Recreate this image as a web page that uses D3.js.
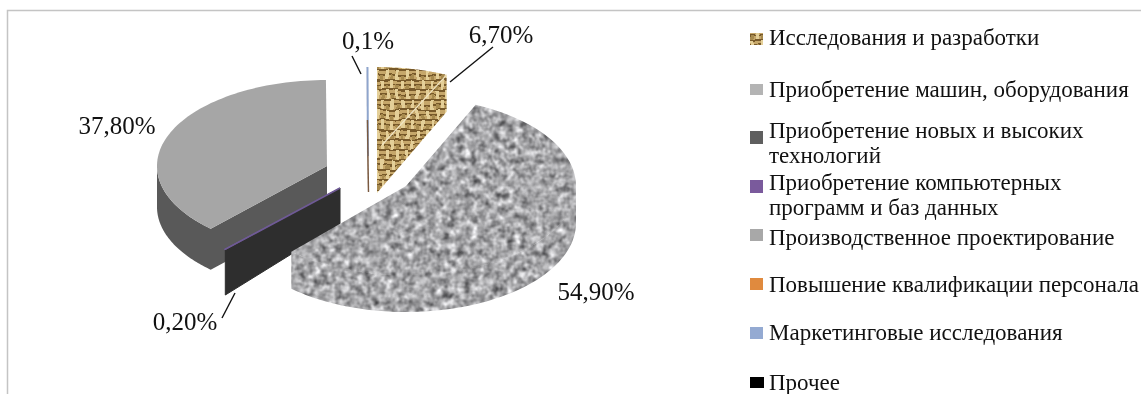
<!DOCTYPE html>
<html>
<head>
<meta charset="utf-8">
<script src="https://d3js.org/d3.v7.min.js"></script>
<style>
  body { margin: 0; background: #fff; }
  svg { display: block; filter: blur(0.35px); }
  text { font-family: "Liberation Serif", serif; fill: #111; }
</style>
</head>
<body>
<div id="chart"></div>
<script>
const categories = ["Исследования и разработки", "Приобретение машин, оборудования", "Приобретение новых и высоких технологий", "Приобретение компьютерных программ и баз данных", "Производственное проектирование", "Повышение квалификации персонала", "Маркетинговые исследования", "Прочее"];
const shares = [6.7, 54.9, 0, 0.2, 37.8, 0, 0.1, 0];
const shareLabels = ["6,70%", "54,90%", "", "0,20%", "37,80%", "", "0,1%", ""];

const width = 1141;
const height = 394;
const rx = 170;

// each slice is pulled away from the centre on its own
const apex = [[377, 156], [406, 186], null, [340, 188], [327, 166], null, [368, 156], null];
const labelPos = [[501, 43], [596, 300], null, [185, 330], [117, 134], null, [368, 49], null];
const leaders = [[[450, 82], [493, 47]], null, null, [[235, 293], [222, 318]], null, null, [[361, 74], [352, 56]], null];

const swatchFill = ["url(#burlap)", "#b4b4b4", "#5f5f5f", "#7a5a9c", "#a8a8a8", "#e08a3e", "#94aad2", "#000"];
const legendRows = [
  { lines: [categories[0]], base: [45], box: [33, 12] },
  { lines: [categories[1]], base: [97], box: [84, 11] },
  { lines: ["Приобретение новых и высоких", "технологий"], base: [138, 163], box: [131, 13] },
  { lines: ["Приобретение компьютерных", "программ и баз данных"], base: [190, 215], box: [180, 13] },
  { lines: [categories[4]], base: [245], box: [229, 12] },
  { lines: [categories[5]], base: [292], box: [278, 12] },
  { lines: [categories[6]], base: [340], box: [327, 12] },
  { lines: [categories[7]], base: [390], box: [377, 11] }
];

const sliceStyles = [
  { top: "url(#burlap)", side: "url(#burlap)", ry: 89, h: 37 },
  { top: "url(#speckle)", side: "url(#speckle)", ry: 89, h: 37 },
  null,
  { top: "#6f5a96", side: "#2e2e2e", ry: 84, h: 45, hc: 36 },
  { top: "#a6a6a6", side: "#595959", ry: 86, h: 41 },
  null,
  { top: "#8fa5cc", side: "#7a5a40", ry: 89, h: 36 },
  null
];

const svg = d3.select("#chart")
  .append("svg")
  .attr("width", width)
  .attr("height", height);

const defs = svg.append("defs");

// sacking texture for the first slice, threads bent a little by noise
const wobble = defs.append("filter")
  .attr("id", "wobble")
  .attr("filterUnits", "userSpaceOnUse")
  .attr("x", 0).attr("y", 0).attr("width", 1141).attr("height", 394)
  .attr("color-interpolation-filters", "sRGB");
wobble.append("feTurbulence")
  .attr("type", "fractalNoise")
  .attr("baseFrequency", 0.07)
  .attr("numOctaves", 2)
  .attr("seed", 3)
  .attr("result", "n");
wobble.append("feDisplacementMap")
  .attr("in", "SourceGraphic")
  .attr("in2", "n")
  .attr("scale", 5)
  .attr("xChannelSelector", "R")
  .attr("yChannelSelector", "G");

const burlap = defs.append("pattern")
  .attr("id", "burlap")
  .attr("patternUnits", "userSpaceOnUse")
  .attr("width", 1141)
  .attr("height", 394);
const weave = burlap.append("g").attr("filter", "url(#wobble)");
weave.append("rect").attr("width", 1141).attr("height", 394).attr("fill", "#77592a");
d3.range(0, 80).forEach(i => {
  weave.append("rect").attr("x", 0).attr("y", i * 5 + 1).attr("width", 1141).attr("height", 3).attr("fill", "#c6a76a");
});
d3.range(0, 230).forEach(i => {
  d3.range(0, 40).forEach(j => {
    const up = (i + j) % 2 === 0;
    weave.append("rect")
      .attr("x", i * 5 + 1)
      .attr("y", j * 10 + (up ? 0 : 5))
      .attr("width", 3)
      .attr("height", up ? 9 : 4)
      .attr("fill", up ? "#e4cf98" : "#a78a4e");
  });
});

// mottled grey for the big slice
const noise = defs.append("filter")
  .attr("id", "noise")
  .attr("x", 0).attr("y", 0).attr("width", 1).attr("height", 1)
  .attr("color-interpolation-filters", "sRGB");
noise.append("feTurbulence")
  .attr("type", "fractalNoise")
  .attr("baseFrequency", 0.14)
  .attr("numOctaves", 2)
  .attr("seed", 7);
noise.append("feColorMatrix")
  .attr("type", "matrix")
  .attr("values", "0.62 0.62 0 0 0.03  0.62 0.62 0 0 0.03  0.62 0.62 0 0 0.04  0 0 0 0 1");
noise.append("feGaussianBlur").attr("stdDeviation", 0.6);
const speckle = defs.append("pattern")
  .attr("id", "speckle")
  .attr("patternUnits", "userSpaceOnUse")
  .attr("width", width)
  .attr("height", height);
speckle.append("rect").attr("width", width).attr("height", height).attr("filter", "url(#noise)");

// frame
svg.append("path")
  .attr("d", d3.line()([[7.5, height], [7.5, 10.5], [width, 10.5]]))
  .attr("fill", "none")
  .attr("stroke", "#c4c4c4")
  .attr("stroke-width", 1.5);

const pie = d3.pie().sort(null).value(d => d);
const arcs = pie(shares);
const line = d3.line();

const rimPoint = (c, ry, a, dy) => [c[0] + rx * Math.sin(a), c[1] - ry * Math.cos(a) + dy];
const angles = (a0, a1, n) => d3.range(n + 1).map(k => a0 + (a1 - a0) * k / n);

function topPath(c, st, d) {
  return line([c].concat(angles(d.startAngle, d.endAngle, 80).map(a => rimPoint(c, st.ry, a, 0)))) + "Z";
}

function rimPath(c, st, d) {
  const a0 = Math.max(d.startAngle, Math.PI / 2);
  const a1 = Math.min(d.endAngle, Math.PI * 1.5);
  if (a1 <= a0) return null;
  const steps = angles(a0, a1, 60);
  const upper = steps.map(a => rimPoint(c, st.ry, a, 0));
  const lower = steps.slice().reverse().map(a => rimPoint(c, st.ry, a, st.h));
  return line(upper.concat(lower)) + "Z";
}

function wallPath(c, st, a) {
  const p = rimPoint(c, st.ry, a, 0);
  return line([c, p, [p[0], p[1] + st.h], [c[0], c[1] + (st.hc || st.h)]]) + "Z";
}

// the face of a cut edge shows when it turns to the viewer
function wallAngle(d) {
  if (d.startAngle > Math.PI) return d.startAngle;
  if (d.endAngle < Math.PI) return d.endAngle;
  return null;
}

const plot = svg.append("g").attr("class", "pie");

// back slices first, the big one sits over the dark wall
[4, 3, 6, 0, 1].forEach(i => {
  const d = arcs[i], c = apex[i], st = sliceStyles[i];
  const g = plot.append("g").attr("class", "slice");
  const ang = wallAngle(d);
  const wall = ang !== null ? wallPath(c, st, ang) : "";
  const rim = i !== 3 ? (rimPath(c, st, d) || "") : "";
  if (st.top === st.side) {
    // same texture all over: one path, so no seam between top and side
    g.append("path").attr("d", wall + rim + topPath(c, st, d)).attr("fill", st.top);
    return;
  }
  g.append("path")
    .attr("d", wall + rim)
    .attr("fill", st.side)
    .attr("stroke", i === 3 ? st.side : "none")
    .attr("stroke-width", 1);
  g.append("path").attr("d", topPath(c, st, d)).attr("fill", st.top);
});

// thin slivers need an outline to show at all
[3, 6].forEach(i => {
  const d = arcs[i], c = apex[i], st = sliceStyles[i];
  const p = rimPoint(c, st.ry, (d.startAngle + d.endAngle) / 2, 0);
  plot.append("path")
    .attr("d", line([p, c]))
    .attr("stroke", st.top)
    .attr("stroke-width", i === 3 ? 1.6 : 2);
});
const blueTop = rimPoint(apex[6], sliceStyles[6].ry, arcs[6].startAngle, 0);
plot.append("path")
  .attr("d", line([[blueTop[0] + 0.5, apex[6][1] - 36], [apex[6][0] + 0.5, apex[6][1] + 36]]))
  .attr("stroke", sliceStyles[6].side)
  .attr("stroke-width", 1.4);

// pale thread across the sacking slice
const threadEnd = rimPoint(apex[0], sliceStyles[0].ry, arcs[0].endAngle, 0);
plot.append("path")
  .attr("d", line([threadEnd, [apex[0][0] + 5, apex[0][1] - 11]]))
  .attr("stroke", "#f2e6c4")
  .attr("stroke-width", 1.2);

// value labels and their leaders
svg.append("g").selectAll("path")
  .data(leaders.filter(d => d))
  .join("path")
  .attr("d", d => line(d))
  .attr("stroke", "#111")
  .attr("stroke-width", 1.4);

svg.append("g").selectAll("text")
  .data(shareLabels.map((t, i) => ({ t, p: labelPos[i] })).filter(d => d.t))
  .join("text")
  .attr("x", d => d.p[0])
  .attr("y", d => d.p[1])
  .attr("text-anchor", "middle")
  .attr("font-size", 25)
  .text(d => d.t);

// legend
const legend = svg.append("g").attr("class", "legend");
legendRows.forEach((row, i) => {
  legend.append("rect")
    .attr("x", 750)
    .attr("y", row.box[0])
    .attr("width", i === 7 ? 14 : 13)
    .attr("height", row.box[1])
    .attr("fill", swatchFill[i]);
  row.lines.forEach((t, j) => {
    legend.append("text")
      .attr("x", 769)
      .attr("y", row.base[j])
      .attr("font-size", 23)
      .text(t);
  });
});
</script>
</body>
</html>
